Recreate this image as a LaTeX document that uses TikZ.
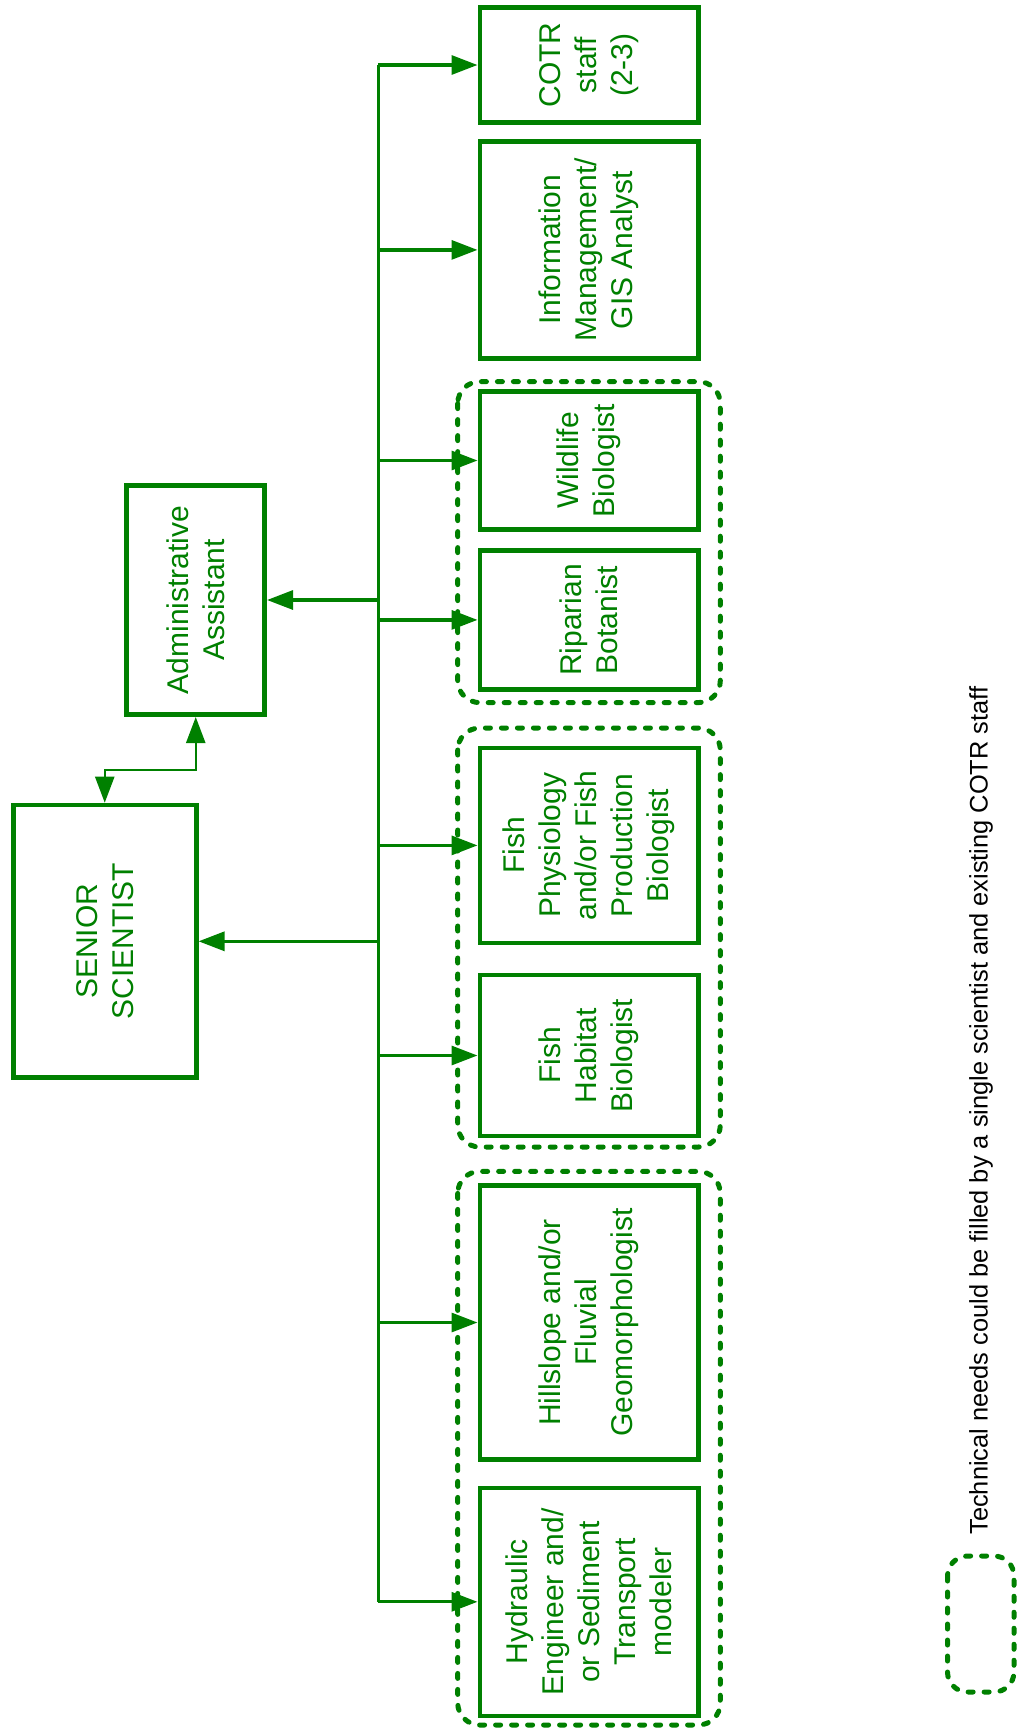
\documentclass[tikz,border=0pt]{standalone}
\usepackage{fontspec}
\setmainfont{Liberation Sans}
\usetikzlibrary{arrows.meta}
\definecolor{orggreen}{RGB}{0,128,0}
\tikzset{
  role/.style={draw=orggreen, line width=2.3pt, text=orggreen, rotate=90,
    align=center, inner sep=0pt, font=\fontsize{15}{18}\selectfont},
  link/.style={draw=orggreen, line width=1.6pt},
  report/.style={link, -{Triangle[length=13pt,width=9.5pt]}},
  group/.style={draw=orggreen, line width=2.5pt, line cap=round,
    dash pattern=on 2.5pt off 5.5pt, rounded corners=11pt},
}

\begin{document}
\begin{tikzpicture}[x=0.5pt,y=-0.5pt]
\useasboundingbox (0,0) rectangle (1018,1730);

\node[role, minimum width=136.3pt, minimum height=91.5pt] at (104.75,941.3) (senior) {SENIOR\\SCIENTIST};
\node[role, minimum width=114.7pt, minimum height=69pt]   at (195.75,600)   (admin)  {Administrative\\Assistant};

% staff, top to bottom
\node[role, minimum width=57.4pt,  minimum height=109.2pt] at (589,65)     (cotr)  {COTR\\staff\\(2-3)};
\node[role, minimum width=108.7pt, minimum height=109.2pt] at (589,249.9)  (gis)   {Information\\Management/\\GIS Analyst};
\node[role, minimum width=68.9pt,  minimum height=109.2pt] at (589,460.5)  (wild)  {Wildlife\\Biologist};
\node[role, minimum width=69.5pt,  minimum height=109.2pt] at (589,619.9)  (rip)   {Riparian\\Botanist};
\node[role, minimum width=97.6pt,  minimum height=109.2pt] at (589,845.4)  (fphys) {Fish\\Physiology\\and/or Fish\\Production\\Biologist};
\node[role, minimum width=80.5pt,  minimum height=109.2pt] at (589,1055.5) (fhab)  {Fish\\Habitat\\Biologist};
\node[role, minimum width=136.8pt, minimum height=109.2pt] at (589,1322.5) (geo)   {Hillslope and/or\\Fluvial\\Geomorphologist};
\node[role, minimum width=114pt,   minimum height=109.2pt] at (589,1601.8) (hyd)   {Hydraulic\\Engineer and/\\or Sediment\\Transport\\modeler};

% groups that one scientist could cover
\draw[group] (457.7,381.6)  rectangle (720.3,702.6);
\draw[group] (457.7,728)    rectangle (720.3,1147);
\draw[group] (457.7,1171.4) rectangle (720.3,1725);

% bus
\coordinate (b1) at (378.3,65);
\coordinate (b2) at (378.3,249.9);
\coordinate (b3) at (378.3,460.5);
\coordinate (b4) at (378.3,619.9);
\coordinate (ba) at (378.3,600);
\coordinate (b5) at (378.3,845.4);
\coordinate (bs) at (378.3,941.3);
\coordinate (b6) at (378.3,1055.5);
\coordinate (b7) at (378.3,1322.5);
\coordinate (b8) at (378.3,1601.8);
\coordinate (sa) at (104.75,770);

\draw[link] (b1) -- (b8);

\draw[report] (b1) -- (cotr);
\draw[report] (b2) -- (gis);
\draw[report] (b3) -- (wild);
\draw[report] (b4) -- (rip);
\draw[report] (b5) -- (fphys);
\draw[report] (b6) -- (fhab);
\draw[report] (b7) -- (geo);
\draw[report] (b8) -- (hyd);

\draw[report] (ba) -- (admin);
\draw[report] (bs) -- (senior);
\draw[link, line width=1.2pt, {Triangle[length=13pt,width=9.5pt]}-{Triangle[length=13pt,width=9.5pt]}] (senior) -- (sa) -| (admin);

% legend
\draw[group, rounded corners=10pt] (947.5,1556) rectangle (1014,1692) coordinate (key);
\node[rotate=90, font=\fontsize{12.7}{15}\selectfont] at (981,1110.5) (keytext) {Technical needs could be filled by a single scientist and existing COTR staff};

\end{tikzpicture}
\end{document}
